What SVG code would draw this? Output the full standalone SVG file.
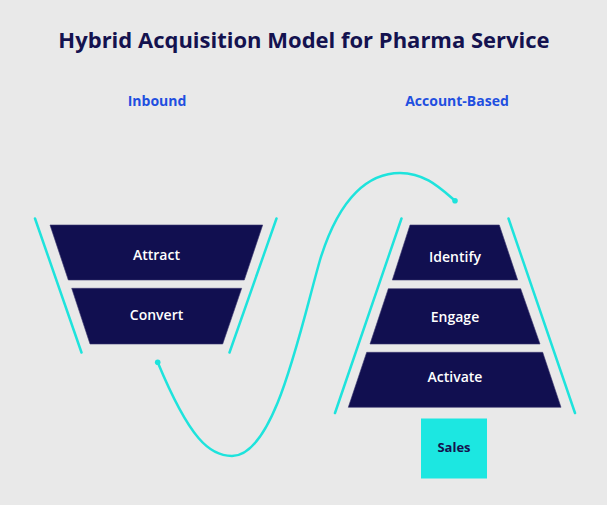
<svg xmlns="http://www.w3.org/2000/svg" width="607" height="505" viewBox="0 0 607 505">
<style>
.bg{fill:#e9e9e9}
.stage{fill:#110f50;stroke:#3a3870;stroke-width:0.6}
.lbl{font-family:"Open Sans","Liberation Sans",sans-serif;font-weight:600;font-size:14px;fill:#ffffff;text-anchor:middle}
.rail{stroke:#1ee3dc;stroke-width:2.5;fill:none;stroke-linecap:round}
.head{font-family:"Open Sans","Liberation Sans",sans-serif;font-weight:700;font-size:14px;fill:#1f4fe0;text-anchor:middle}
</style>
<rect class="bg" x="0" y="0" width="607" height="505"/>
<text x="304" y="48" text-anchor="middle" font-family="'Open Sans','Liberation Sans',sans-serif" font-weight="700" font-size="22" fill="#14124f">Hybrid Acquisition Model for Pharma Service</text>
<text class="head" x="157" y="106">Inbound</text>
<text class="head" x="457" y="106">Account-Based</text>
<g id="connectors">
<path class="rail" d="M157.7,362.3 C190,440 210,456 232,456 C275,456 300,330 320,260 C340,195 370,173 400,173 C425,173 440,188 455,200.7"/>
<circle cx="157.7" cy="362.3" r="2.8" fill="#1ee3dc"/>
<circle cx="455" cy="200.7" r="2.8" fill="#1ee3dc"/>
</g>
<g id="inbound-rails">
<line class="rail" x1="35" y1="218.5" x2="81.5" y2="352.5"/>
<line class="rail" x1="276.5" y1="218.5" x2="229.5" y2="352.5"/>
</g>
<g id="account-rails">
<line class="rail" x1="401.5" y1="218.5" x2="335" y2="413"/>
<line class="rail" x1="508.5" y1="218.5" x2="575" y2="413"/>
</g>
<g id="attract">
<polygon class="stage" points="50,225 262.7,225 244.3,280 68.3,280"/>
<text class="lbl" x="156.5" y="259.5">Attract</text>
</g>
<g id="convert">
<polygon class="stage" points="71.7,288.3 241.7,288.3 222.7,344 90,344"/>
<text class="lbl" x="156.5" y="319.5">Convert</text>
</g>
<g id="identify">
<polygon class="stage" points="410,225 499.3,225 517.7,280 392.3,280"/>
<text class="lbl" x="455" y="262">Identify</text>
</g>
<g id="engage">
<polygon class="stage" points="388.3,288.7 520.7,288.7 540,344 370,344"/>
<text class="lbl" x="455" y="322">Engage</text>
</g>
<g id="activate">
<polygon class="stage" points="366.7,352.3 542.7,352.3 561,407.3 348.3,407.3"/>
<text class="lbl" x="455" y="382">Activate</text>
</g>
<g id="sales">
<rect x="421" y="418.5" width="66" height="60" fill="#1ce7e1"/>
<text x="454" y="452" text-anchor="middle" font-family="'Open Sans','Liberation Sans',sans-serif" font-weight="700" font-size="13" fill="#14124f">Sales</text>
</g>
</svg>
